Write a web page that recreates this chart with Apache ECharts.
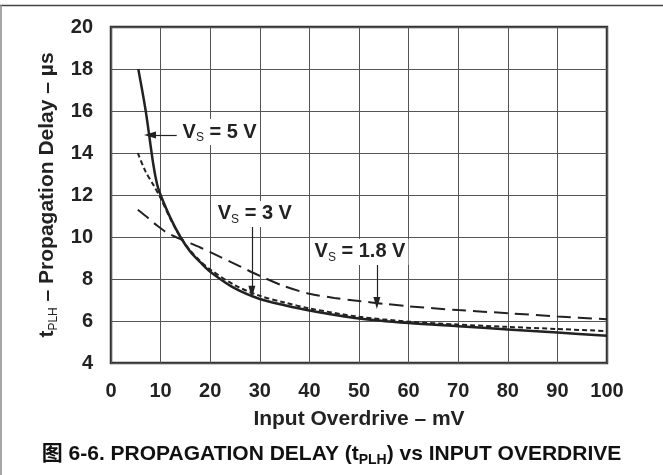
<!DOCTYPE html>
<html>
<head>
<meta charset="utf-8">
<script src="https://cdn.jsdelivr.net/npm/echarts@6/dist/echarts.min.js"></script>
<style>
  html, body { margin: 0; padding: 0; background: #fff; }
  #chart { width: 663px; height: 475px; }
</style>
</head>
<body>
<div id="chart"></div>
<script>
// Propagation delay (tPLH, µs) versus input overdrive (mV) for three supply voltages
const xTicks = [0, 10, 20, 30, 40, 50, 60, 70, 80, 90, 100];
const yTicks = [4, 6, 8, 10, 12, 14, 16, 18, 20];

const overdrive5V = [5.5, 7, 8.5, 9.3, 10, 12, 14, 16, 18, 20, 25, 30, 35, 40, 50, 60, 70, 80, 90, 100];
const delay5V     = [18, 16, 13.5, 12.5, 12.0, 10.9, 10.0, 9.3, 8.8, 8.35, 7.55, 7.05, 6.75, 6.5, 6.12, 5.9, 5.75, 5.6, 5.45, 5.3];

const overdrive3V = [5.4, 7, 8.5, 10, 12, 14, 16, 18, 20, 25, 30, 35, 40, 50, 60, 70, 80, 90, 100];
const delay3V     = [14, 13.1, 12.5, 11.85, 10.85, 10.0, 9.35, 8.85, 8.45, 7.7, 7.2, 6.88, 6.6, 6.2, 5.97, 5.83, 5.72, 5.62, 5.52];

const overdrive1V8 = [5.4, 7, 9, 11, 14, 18, 22, 26, 30, 35, 40, 45, 50, 55, 60, 70, 80, 90, 100];
const delay1V8     = [11.3, 11.0, 10.6, 10.25, 9.9, 9.5, 9.05, 8.6, 8.15, 7.65, 7.3, 7.1, 6.95, 6.82, 6.7, 6.52, 6.37, 6.22, 6.08];

// Callout positions in data units: [label x, label y, arrow start x, y, arrow end x, y]
const callout5V  = [21.9, 15.0, 13.25, 14.86, 7.86, 14.86];
const callout3V  = [29.0, 11.1, 28.4, 10.6, 28.4, 7.39];
const callout1V8 = [50.2, 9.29, 53.6, 8.76, 53.6, 6.86];

const FONT = '"Liberation Sans", Arial, Helvetica, "Noto Sans CJK SC", sans-serif';
const INK = '#222';

function zip(xs, ys) { return xs.map((x, i) => [x, ys[i]]); }

const calloutRich = {
  v: { fontSize: 20, fontWeight: 'bold', fontFamily: FONT, color: INK, lineHeight: 24 },
  s: { fontSize: 12, fontFamily: FONT, color: INK, lineHeight: 10, verticalAlign: 'bottom' }
};

function calloutMarks(c, text) {
  return {
    markPoint: {
      symbol: 'rect',
      symbolSize: [1, 1],
      itemStyle: { color: 'rgba(0,0,0,0)' },
      silent: true,
      data: [{
        coord: [c[0], c[1]],
        label: {
          show: true,
          position: 'inside',
          formatter: text,
          backgroundColor: '#fff',
          padding: [1, 3, 1, 3],
          rich: calloutRich
        }
      }]
    },
    markLine: {
      silent: true,
      symbol: ['none', 'triangle'],
      symbolSize: [7, 12],
      lineStyle: { color: INK, width: 1.2, type: 'solid' },
      label: { show: false },
      data: [[{ coord: [c[2], c[3]] }, { coord: [c[4], c[5]] }]]
    }
  };
}

const chart = echarts.init(document.getElementById('chart'), null, { renderer: 'canvas' });

const series = [
  Object.assign({
    name: 'VS = 1.8 V',
    type: 'line',
    data: zip(overdrive1V8, delay1V8),
    smooth: 0.3,
    showSymbol: false,
    lineStyle: { color: INK, width: 2, type: [14, 7] },
    z: 3
  }, calloutMarks(callout1V8, '{v|V}{s|S}{v| = 1.8 V}')),
  Object.assign({
    name: 'VS = 3 V',
    type: 'line',
    data: zip(overdrive3V, delay3V),
    smooth: 0.3,
    showSymbol: false,
    lineStyle: { color: INK, width: 2, type: [5, 3] },
    z: 4
  }, calloutMarks(callout3V, '{v|V}{s|S}{v| = 3 V}')),
  Object.assign({
    name: 'VS = 5 V',
    type: 'line',
    data: zip(overdrive5V, delay5V),
    smooth: 0.3,
    showSymbol: false,
    lineStyle: { color: INK, width: 2.5, type: 'solid' },
    z: 5
  }, calloutMarks(callout5V, '{v|V}{s|S}{v| = 5 V}'))
];

chart.setOption({
  animation: false,
  backgroundColor: '#fff',
  title: {
    text: '{b|图 6-6. PROPAGATION DELAY (t}{sub|PLH}{b|) vs INPUT OVERDRIVE}',
    left: 'center',
    top: 436,
    textStyle: {
      rich: {
        b: { fontSize: 21, fontWeight: 'bold', fontFamily: FONT, color: '#111', lineHeight: 26 },
        sub: { fontSize: 14, fontWeight: 'bold', fontFamily: FONT, color: '#111', lineHeight: 12, verticalAlign: 'bottom' }
      }
    }
  },
  grid: {
    left: 111, top: 27, width: 496, height: 336,
    show: true,
    borderColor: '#333',
    borderWidth: 2.5,
    backgroundColor: '#fff'
  },
  xAxis: {
    type: 'value',
    min: 0, max: 100, interval: 10,
    name: 'Input Overdrive – mV',
    nameLocation: 'middle',
    nameGap: 46,
    nameTextStyle: { fontSize: 21, fontWeight: 'bold', fontFamily: FONT, color: INK },
    axisLine: { show: false },
    axisTick: { show: false },
    axisLabel: {
      margin: 18,
      fontSize: 20, fontWeight: 'bold', fontFamily: FONT, color: INK,
      formatter: v => (xTicks.indexOf(v) >= 0 ? String(v) : '')
    },
    splitLine: { show: true, lineStyle: { color: '#555', width: 1 } }
  },
  yAxis: {
    type: 'value',
    min: 4, max: 20, interval: 2,
    name: '{t|t}{sub|PLH}{t| – Propagation Delay – µs}',
    nameLocation: 'middle',
    nameGap: 45,
    nameRotate: 90,
    nameTextStyle: {
      rich: {
        t: { fontSize: 21, fontWeight: 'bold', fontFamily: FONT, color: INK, lineHeight: 26 },
        sub: { fontSize: 12, fontFamily: FONT, color: INK, lineHeight: 10, verticalAlign: 'bottom' }
      }
    },
    axisLine: { show: false },
    axisTick: { show: false },
    axisLabel: {
      margin: 18,
      fontSize: 20, fontWeight: 'bold', fontFamily: FONT, color: INK,
      formatter: v => (yTicks.indexOf(v) >= 0 ? String(v) : '')
    },
    splitLine: { show: true, lineStyle: { color: '#555', width: 1 } }
  },
  graphic: [
    // figure frame: top rule and left rule
    { type: 'line', shape: { x1: 0, y1: 5.5, x2: 663, y2: 5.5 }, style: { stroke: '#444', lineWidth: 1.5 }, silent: true },
    { type: 'line', shape: { x1: 1, y1: 5, x2: 1, y2: 475 }, style: { stroke: '#888', lineWidth: 1.5 }, silent: true }
  ],
  series: series
});
</script>
</body>
</html>
